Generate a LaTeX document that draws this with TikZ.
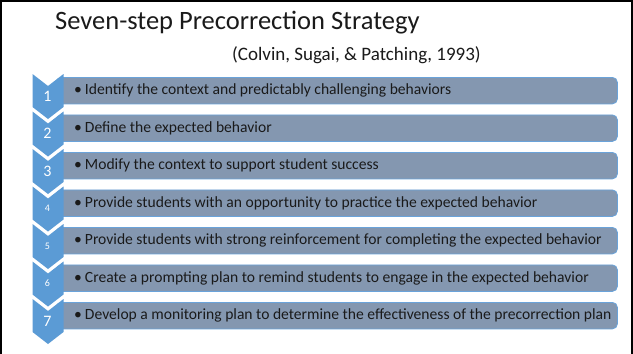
\documentclass[tikz,border=0pt]{standalone}
\usepackage{fontspec}
\setmainfont{Carlito}
\definecolor{chevblue}{HTML}{5B9BD5}
\definecolor{boxfill}{HTML}{8497B0}
\definecolor{boxedge}{HTML}{6AA3DA}
\definecolor{ink}{HTML}{1A1A1A}
\begin{document}
\begin{tikzpicture}[x=1pt,y=-1pt,
  stepbox/.style={draw=boxedge,line width=0.8pt,fill=boxfill,rounded corners=5pt,
    minimum width=561pt,minimum height=26.5pt,inner sep=0pt,anchor=north west},
  steptext/.style={anchor=west,inner sep=0pt,text=ink,font=\fontsize{15.6}{18}\selectfont},
  bignum/.style={text=white,inner sep=0pt,font=\fontsize{16}{18}\selectfont},
  smallnum/.style={text=white,inner sep=0pt,font=\fontsize{10}{12}\selectfont},
  chevron/.style={fill=chevblue}]
\useasboundingbox (0,0) rectangle (633,354);
\fill[white] (0,0) rectangle (633,354);
% slide frame (open at the bottom)
\draw[line width=2pt,black] (1,354) -- (1,1) -- (631.5,1) -- (631.5,354);

\node[anchor=west,inner sep=0pt,text=ink,font=\fontsize{26.5}{30}\selectfont] (title) at (55,23) {Seven-step Precorrection Strategy};
\node[anchor=west,inner sep=0pt,text=ink,font=\fontsize{19}{22}\selectfont] (cite) at (232,55) {(Colvin, Sugai, \& Patching, 1993)};

\foreach \i/\nstyle/\txt in {
  1/bignum/Identify the context and predictably challenging behaviors,
  2/bignum/Define the expected behavior,
  3/bignum/Modify the context to support student success,
  4/smallnum/Provide students with an opportunity to practice the expected behavior,
  5/smallnum/Provide students with strong reinforcement for completing the expected behavior,
  6/smallnum/Create a prompting plan to remind students to engage in the expected behavior,
  7/bignum/Develop a monitoring plan to determine the effectiveness of the precorrection plan}{
  \pgfmathsetmacro{\yt}{74+37.5*(\i-1)}
  % text box, its left end tucked under the chevron
  \node[stepbox] (box\i) at (56,\yt+3) {};
  \node[steptext] (txt\i) at ([xshift=18pt]box\i.west) {\textbullet\hspace{3pt}\txt};
  % down-pointing chevron
  \fill[chevron] (32.5,\yt) -- (48,\yt+12) -- (63.5,\yt) -- (63.5,\yt+33)
      -- (48,\yt+45) -- (32.5,\yt+33) -- cycle;
  \node[\nstyle] (num\i) at (47.5,\yt+22) {\i};
}
\end{tikzpicture}
\end{document}
